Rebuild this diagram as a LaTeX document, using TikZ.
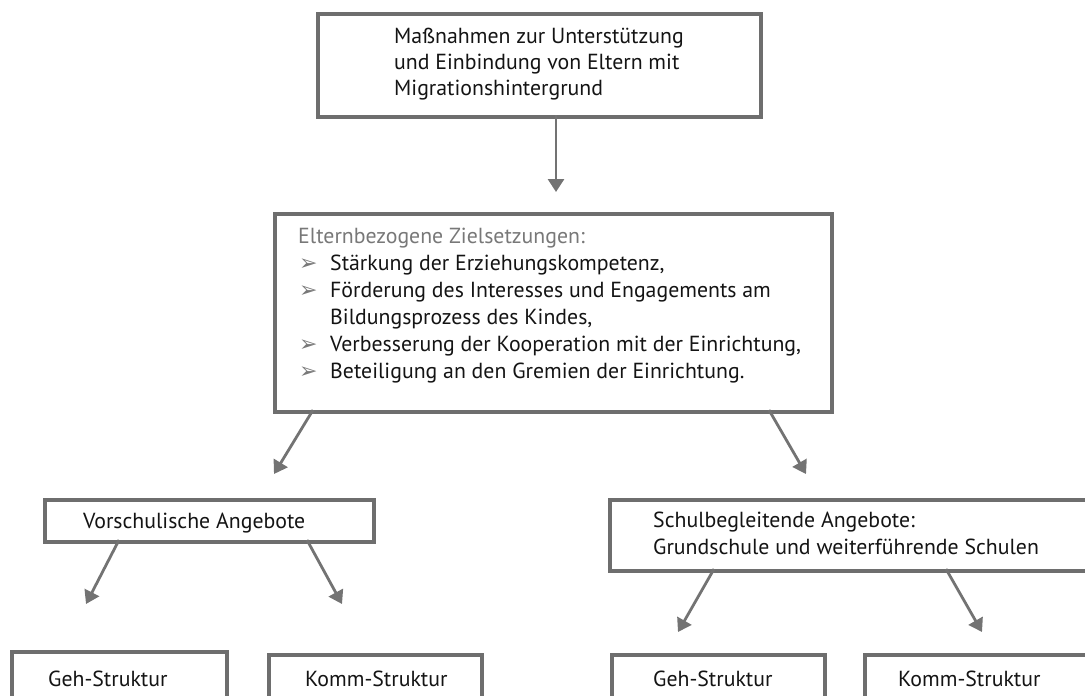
\documentclass[tikz,border=0pt]{standalone}
\usepackage{fontspec}
\setmainfont{PT Sans}
\newfontfamily\symfont{DejaVu Sans}
\usetikzlibrary{arrows.meta}
\definecolor{boxgray}{RGB}{110,110,110}
\definecolor{txt}{RGB}{20,20,20}
\definecolor{headgray}{RGB}{120,120,120}
\definecolor{arrgray}{RGB}{115,115,115}
\newcommand{\bul}{\hspace*{1pt}\makebox[31pt][l]{\fontsize{22}{27}\symfont\color{headgray}➢}}
\begin{document}
\begin{tikzpicture}[x=1pt,y=-1pt,
  box/.style={draw=boxgray, line width=3.8pt, rectangle, inner sep=0pt, anchor=north west},
  lbl/.style={anchor=base west, inner sep=0pt, text=txt, font=\fontsize{21.8}{27}\selectfont, align=left},
  conn/.style={draw=arrgray, line width=2.8pt, -{Triangle[width=16pt,length=13pt]}}]
\useasboundingbox (0,0) rectangle (1085,696);
\clip (0,0) rectangle (1085,696);
% boxes
\node[box, minimum width=443pt, minimum height=103pt] (top) at (316,12) {};
\node[box, minimum width=557pt, minimum height=198pt] (mid) at (273,212) {};
\node[box, minimum width=329pt, minimum height=42pt] (vor) at (43,498) {};
\node[box, minimum width=500pt, minimum height=71pt] (sch) at (608,498) {};
\node[box, line width=4.4pt, minimum width=215pt, minimum height=80pt] (geh1) at (10,650) {};
\node[box, minimum width=213pt, minimum height=80pt] (komm1) at (267,653) {};
\node[box, minimum width=213pt, minimum height=80pt] (geh2) at (610,653) {};
\node[box, minimum width=240pt, minimum height=80pt] (komm2) at (863,653) {};
% texts (base anchor = baseline of the last line)
\node[lbl, font=\fontsize{21.8}{26}\selectfont] (ttop) at (394,95) {Maßnahmen zur Unterstützung\\und Einbindung von Eltern mit\\Migrationshintergrund};
\node[lbl] (tmid) at (298,378) {\textcolor{headgray}{Elternbezogene Zielsetzungen:}\\
\bul Stärkung der Erziehungskompetenz,\\
\bul Förderung des Interesses und Engagements am\\
\hspace*{32pt}Bildungsprozess des Kindes,\\
\bul Verbesserung der Kooperation mit der Einrichtung,\\
\bul Beteiligung an den Gremien der Einrichtung.};
\node[lbl] (tvor) at (83,528) {Vorschulische Angebote};
\node[lbl] (tsch) at (653,554) {Schulbegleitende Angebote:\\Grundschule und weiterführende Schulen};
\node[lbl] (tgeh1) at (48,686) {Geh-Struktur};
\node[lbl] (tkomm1) at (305,686) {Komm-Struktur};
\node[lbl] (tgeh2) at (653,686) {Geh-Struktur};
\node[lbl] (tkomm2) at (898,686) {Komm-Struktur};
% connector end points
\coordinate (a0s) at (556,115); \coordinate (a0e) at (556,192);
\coordinate (a1s) at (313,410); \coordinate (a1e) at (274,474);
\coordinate (a2s) at (769,410); \coordinate (a2e) at (806,474);
\coordinate (a3s) at (119,540); \coordinate (a3e) at (86,604);
\coordinate (a4s) at (307,540); \coordinate (a4e) at (342,604);
\coordinate (a5s) at (714,569); \coordinate (a5e) at (678,632);
\coordinate (a6s) at (946,569); \coordinate (a6e) at (982,632);
\draw[conn] (a0s) -- (a0e);
\draw[conn] (a1s) -- (a1e);
\draw[conn] (a2s) -- (a2e);
\draw[conn] (a3s) -- (a3e);
\draw[conn] (a4s) -- (a4e);
\draw[conn] (a5s) -- (a5e);
\draw[conn] (a6s) -- (a6e);
\end{tikzpicture}
\end{document}
